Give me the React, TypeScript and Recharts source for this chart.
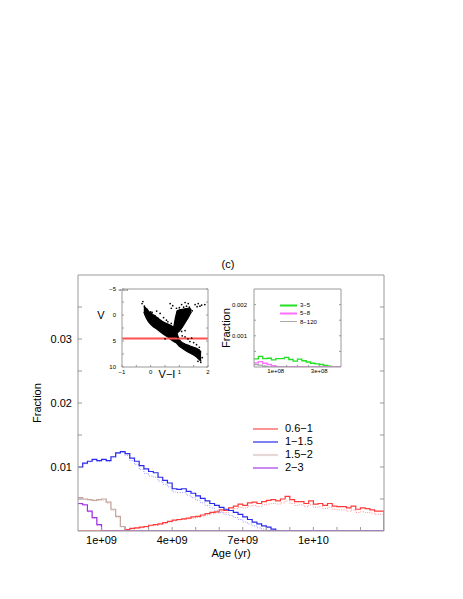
import React from 'react';
import {
  LineChart,
  ComposedChart,
  Line,
  Area,
  Scatter,
  XAxis,
  YAxis,
  Legend,
  ReferenceLine,
} from 'recharts';

const FONT = "'Liberation Sans', Arial, Helvetica, sans-serif";

// ---------------- main histogram (age in Gyr, fractions in units of 1e-3) ----------------
const ageEdgesGyr = [
  0, 0.2, 0.4, 0.6, 0.8, 1.0, 1.2, 1.4, 1.6, 1.8,
  2.0, 2.2, 2.4, 2.6, 2.8, 3.0, 3.2, 3.4, 3.6, 3.8,
  4.0, 4.2, 4.4, 4.6, 4.8, 5.0, 5.2, 5.4, 5.6, 5.8,
  6.0, 6.2, 6.4, 6.6, 6.8, 7.0, 7.2, 7.4, 7.6, 7.8,
  8.0, 8.2, 8.4, 8.6, 8.8, 9.0, 9.2, 9.4, 9.6, 9.8,
  10.0, 10.2, 10.4, 10.6, 10.8, 11.0, 11.2, 11.4, 11.6, 11.8,
  12.0, 12.2, 12.4, 12.6, 12.8, 13.0,
];

const mass06to1 = [
  0, 0, 0, 0, 0, 0, 0, 0, 0, 0,
  0.2, 0.4, 0.5, 0.6, 0.7, 0.9, 1.0, 1.1, 1.3, 1.5,
  1.7, 1.8, 1.9, 2.0, 2.2, 2.3, 2.5, 2.7, 2.9, 3.0,
  3.3, 3.2, 3.6, 3.9, 4.2, 4.0, 4.4, 4.5, 4.3, 4.6,
  4.8, 4.9, 4.7, 5.0, 5.4, 4.9, 4.6, 4.6, 4.3, 4.7,
  4.2, 4.3, 4.0, 4.3, 3.9, 3.8, 3.8, 3.6, 3.9, 3.4,
  3.6, 3.5, 3.3, 3.1, 3.1, 0,
];
const mass06to1Dotted = [
  0, 0, 0, 0, 0, 0, 0, 0, 0, 0,
  0.2, 0.3, 0.4, 0.5, 0.6, 0.8, 0.9, 1.0, 1.2, 1.4,
  1.6, 1.7, 1.8, 1.9, 2.0, 2.1, 2.3, 2.5, 2.7, 2.8,
  3.0, 2.9, 3.2, 3.5, 3.7, 3.6, 3.9, 4.0, 3.8, 4.1,
  4.2, 4.3, 4.2, 4.4, 4.7, 4.3, 4.0, 4.1, 3.8, 4.1,
  3.7, 3.8, 3.5, 3.7, 3.4, 3.3, 3.3, 3.1, 3.3, 2.9,
  3.0, 2.9, 2.8, 2.6, 2.6, 0,
];
const mass1to15 = [
  10.0, 10.6, 10.9, 11.2, 11.0, 11.2, 11.0, 11.6, 12.2, 12.4,
  12.1, 11.4, 10.9, 10.2, 9.7, 9.3, 9.1, 8.4, 7.9, 7.5,
  6.6, 6.5, 6.6, 6.2, 5.9, 5.5, 5.1, 4.7, 4.3, 4.0,
  3.7, 3.4, 3.2, 2.9, 2.6, 2.2, 1.8, 1.4, 1.1, 0.8,
  0.6, 0.3, 0, 0, 0, 0, 0, 0, 0, 0,
  0, 0, 0, 0, 0, 0, 0, 0, 0, 0,
  0, 0, 0, 0, 0, 0,
];
const mass1to15Dotted = [
  9.9, 10.5, 10.8, 11.1, 10.9, 11.1, 10.9, 11.5, 12.1, 12.3,
  11.8, 11.0, 10.4, 9.6, 9.0, 8.6, 8.4, 7.8, 7.3, 6.9,
  6.1, 6.0, 6.0, 5.6, 5.2, 4.8, 4.4, 4.0, 3.6, 3.2,
  2.9, 2.6, 2.4, 2.1, 1.8, 1.4, 1.1, 0.8, 0.5, 0.3,
  0.1, 0, 0, 0, 0, 0, 0, 0, 0, 0,
  0, 0, 0, 0, 0, 0, 0, 0, 0, 0,
  0, 0, 0, 0, 0, 0,
];
const mass15to2 = [
  5.2, 5.0, 4.9, 4.8, 4.9, 5.0, 4.5, 3.4, 2.3, 0.7,
  0, 0, 0, 0, 0, 0, 0, 0, 0, 0,
  0, 0, 0, 0, 0, 0, 0, 0, 0, 0,
  0, 0, 0, 0, 0, 0, 0, 0, 0, 0,
  0, 0, 0, 0, 0, 0, 0, 0, 0, 0,
  0, 0, 0, 0, 0, 0, 0, 0, 0, 0,
  0, 0, 0, 0, 0, 0,
];
const mass15to2Dotted = [
  5.0, 4.9, 4.8, 4.7, 4.8, 4.8, 4.3, 3.2, 2.1, 0.6,
  0, 0, 0, 0, 0, 0, 0, 0, 0, 0,
  0, 0, 0, 0, 0, 0, 0, 0, 0, 0,
  0, 0, 0, 0, 0, 0, 0, 0, 0, 0,
  0, 0, 0, 0, 0, 0, 0, 0, 0, 0,
  0, 0, 0, 0, 0, 0, 0, 0, 0, 0,
  0, 0, 0, 0, 0, 0,
];
const mass2to3 = [
  4.3, 4.1, 3.1, 2.1, 1.0, 0, 0, 0, 0, 0,
  0, 0, 0, 0, 0, 0, 0, 0, 0, 0,
  0, 0, 0, 0, 0, 0, 0, 0, 0, 0,
  0, 0, 0, 0, 0, 0, 0, 0, 0, 0,
  0, 0, 0, 0, 0, 0, 0, 0, 0, 0,
  0, 0, 0, 0, 0, 0, 0, 0, 0, 0,
  0, 0, 0, 0, 0, 0,
];
const mass2to3Dotted = [
  4.2, 4.0, 3.0, 2.0, 0.9, 0, 0, 0, 0, 0,
  0, 0, 0, 0, 0, 0, 0, 0, 0, 0,
  0, 0, 0, 0, 0, 0, 0, 0, 0, 0,
  0, 0, 0, 0, 0, 0, 0, 0, 0, 0,
  0, 0, 0, 0, 0, 0, 0, 0, 0, 0,
  0, 0, 0, 0, 0, 0, 0, 0, 0, 0,
  0, 0, 0, 0, 0, 0,
];

const seriesNames = ['0.6−1', '1−1.5', '1.5−2', '2−3'];
const seriesColors = ['#ff3a3a', '#2a2aee', '#c6a69e', '#a434e0'];
const dottedColors = ['#ff9090', '#9a9aff', '#dcc4bc', '#c88af0'];
const legendColors = ['#ff5a5a', '#3a3aee', '#e6d8d6', '#b048f0'];
const legendWidths = [1.3, 1.3, 2.2, 1.3];

const xTickValues = [1e9, 2e9, 3e9, 4e9, 5e9, 6e9, 7e9, 8e9, 9e9, 1e10, 1.1e10, 1.2e10];
const xLabelValues = [1e9, 4e9, 7e9, 1e10];
const xLabelTexts = ['1e+09', '4e+09', '7e+09', '1e+10'];
const yTickValues = [0.005, 0.01, 0.015, 0.02, 0.025, 0.03, 0.035];
const yLabelValues = [0.01, 0.02, 0.03];
const yLabelTexts = ['0.01', '0.02', '0.03'];
const titleText = '(c)';

// ---------------- inset: young ages (age in units of 1e8 yr, fractions in 1e-3) ----------------
const youngAgeEdges = [
  0, 0.2, 0.4, 0.6, 0.8, 1.0, 1.2, 1.4, 1.6, 1.8,
  2.0, 2.2, 2.4, 2.6, 2.8, 3.0, 3.2, 3.4, 3.6, 3.8, 4.0,
];
const mass3to5 = [
  0.26, 0.34, 0.27, 0.28, 0.23, 0.27, 0.27, 0.31, 0.24, 0.19,
  0.25, 0.20, 0.16, 0.12, 0.10, 0.08, 0.05, 0.02, 0, 0, 0,
];
const mass5to8 = [
  0.13, 0.17, 0.12, 0.08, 0.04, 0, 0, 0, 0, 0,
  0, 0, 0, 0, 0, 0, 0, 0, 0, 0, 0,
];
const mass8to120 = [
  0.08, 0.06, 0.02, 0, 0, 0, 0, 0, 0, 0,
  0, 0, 0, 0, 0, 0, 0, 0, 0, 0, 0,
];
const youngNames = ['3−5', '5−8', '8−120'];
const youngColors = ['#22e022', '#ff70ff', '#a8a8a8'];
const youngLegendWidths = [2, 2, 1];
const youngXTicks = [0.5e8, 1e8, 1.5e8, 2e8, 2.5e8, 3e8, 3.5e8];
const youngXLabelValues = [1e8, 3e8];
const youngXLabelTexts = ['1e+08', '3e+08'];
const youngYTicks = [0.0005, 0.001, 0.0015, 0.002];
const youngYLabelValues = [0.001, 0.002];
const youngYLabelTexts = ['0.001', '0.002'];

// ---------------- inset: colour-magnitude diagram ----------------
const msBandVI = [-0.24, -0.2, -0.15, -0.08, 0.0, 0.1, 0.2, 0.3, 0.4, 0.5, 0.6, 0.7, 0.8, 0.9, 1.0, 1.1, 1.2, 1.3, 1.4, 1.5, 1.6, 1.7, 1.76];
const msBandTop = [-1.4, -1.5, -1.2, -0.7, -0.4, 0.0, 0.4, 0.8, 1.2, 1.5, 1.75, 2.0, 2.35, 3.2, 4.9, 5.3, 5.6, 5.8, 6.0, 6.2, 6.4, 6.7, 7.2];
const msBandBottom = [-0.6, 0.0, 0.6, 1.3, 1.8, 2.3, 2.65, 3.1, 3.5, 3.9, 4.25, 4.7, 5.1, 5.4, 6.0, 6.4, 6.8, 7.1, 7.4, 7.7, 8.1, 8.6, 8.9];
const giantVI = [0.8, 0.86, 0.92, 1.0, 1.1, 1.2, 1.3, 1.37, 1.42];
const giantTop = [2.5, 0.6, -0.8, -1.0, -1.1, -1.2, -1.3, -1.3, -0.9];
const giantBottom = [3.6, 3.6, 3.5, 3.1, 2.4, 1.5, 0.6, -0.1, -0.6];
const starVI = [
  -0.27, -0.3, 0.68, 0.77, 0.72, 1.08, 1.2, 1.31, 1.25, 1.55,
  1.66, 1.78, 1.89, 1.62, 1.72, 0.33, 0.21, 0.45, 0.55, 1.08,
  1.2, 1.37, 1.43, 1.2, 1.3, 1.1, 0.95, 1.5, 1.6, 1.7,
  -0.1, 0.0, 0.6, 0.9, 1.0, 1.15, 1.35, 1.45, 0.82, 0.72,
  -0.22, -0.12, 0.05, 0.15, 0.25, 1.8, 1.75, 1.65, 1.02, 0.5,
];
const starV = [
  -2.6, -2.2, -2.2, -1.8, -1.3, -2.0, -2.4, -2.2, -1.7, -2.0,
  -2.2, -1.9, -2.0, -1.6, -1.7, -0.3, -0.75, 0.5, 1.0, 3.15,
  3.0, 5.1, 4.45, 4.2, 4.6, 4.0, 4.3, 5.3, 5.7, 6.2,
  -0.9, -0.6, 1.3, -1.3, -1.4, -1.5, -1.5, -0.8, 2.2, 1.6,
  -1.7, -1.1, -0.5, 0.1, 0.6, 8.2, 9.1, 8.9, 4.9, 4.6,
];
const cmdCutV = 4.5;
const cmdXTicks = [-1, -0.5, 0, 0.5, 1, 1.5, 2];
const cmdXLabelValues = [-1, 0, 1, 2];
const cmdXLabelTexts = ['−1', '0', '1', '2'];
const cmdYTicks = [-5, -2.5, 0, 2.5, 5, 7.5, 10];
const cmdYLabelValues = [-5, 0, 5, 10];
const cmdYLabelTexts = ['−5', '0', '5', '10'];

// ---------------- built tables ----------------
const mainRows = ageEdgesGyr.map((a, i) => ({
  age: a * 1e9,
  s0: mass06to1[i] / 1000,
  d0: mass06to1Dotted[i] / 1000,
  s1: mass1to15[i] / 1000,
  d1: mass1to15Dotted[i] / 1000,
  s2: mass15to2[i] / 1000,
  d2: mass15to2Dotted[i] / 1000,
  s3: mass2to3[i] / 1000,
  d3: mass2to3Dotted[i] / 1000,
}));

const youngRows = youngAgeEdges.map((a, i) => ({
  age: a * 1e8,
  g0: mass3to5[i] / 1000,
  g1: mass5to8[i] / 1000,
  g2: mass8to120[i] / 1000,
}));

const cmdRows = [
  ...msBandVI.map((x, i) => ({ vi: x, ms: [msBandTop[i], msBandBottom[i]] })),
  ...giantVI.map((x, i) => ({ vi: x, rgb: [giantTop[i], giantBottom[i]] })),
].sort((a, b) => a.vi - b.vi);
const cmdStars = starVI.map((x, i) => ({ vi: x, v: starV[i] }));

const labelFor = (values: number[], texts: string[], tol: number) => (v: number) => {
  const i = values.findIndex((x) => Math.abs(x - v) < tol);
  return i >= 0 ? texts[i] : '';
};
const blank = () => '';

const FRAME = '#9a9a9a';

const MainLegend = () => (
  <div style={{ fontFamily: FONT, fontSize: 11, color: '#000' }}>
    {seriesNames.map((n, i) => (
      <div key={n} style={{ height: 13, display: 'flex', alignItems: 'center' }}>
        <svg width={25} height={4} style={{ display: 'block' }}>
          <line x1={0} y1={2} x2={25} y2={2} stroke={legendColors[i]} strokeWidth={legendWidths[i]} />
        </svg>
        <span style={{ marginLeft: 7, lineHeight: '13px' }}>{n}</span>
      </div>
    ))}
  </div>
);

const YoungLegend = () => (
  <div style={{ fontFamily: FONT, fontSize: 6, color: '#000' }}>
    {youngNames.map((n, i) => (
      <div key={n} style={{ height: 8.3, display: 'flex', alignItems: 'center' }}>
        <svg width={17} height={3} style={{ display: 'block' }}>
          <line x1={0} y1={1.5} x2={17} y2={1.5} stroke={youngColors[i]} strokeWidth={youngLegendWidths[i]} />
        </svg>
        <span style={{ marginLeft: 3, lineHeight: '8px' }}>{n}</span>
      </div>
    ))}
  </div>
);

const StarDot = (props: any) => <circle cx={props.cx} cy={props.cy} r={0.85} fill="#000" />;

const layer: React.CSSProperties = { position: 'absolute', left: 0, top: 0 };

export default function App() {
  const W = 463;
  const H = 599;
  return (
    <div style={{ position: 'absolute', left: 0, top: 0, width: W, height: H, background: '#fff', fontFamily: FONT }}>
      {/* main chart */}
      <div style={layer}>
        <LineChart width={W} height={H} data={mainRows} margin={{ top: 274, right: 78, bottom: 38, left: 18 }} style={{ fontFamily: FONT }}>
          <XAxis
            xAxisId="b"
            type="number"
            dataKey="age"
            domain={[0, 13e9]}
            allowDataOverflow
            ticks={xTickValues}
            interval={0}
            tickFormatter={labelFor(xLabelValues, xLabelTexts, 1)}
            tickSize={-4}
            tickMargin={9}
            stroke={FRAME}
            tick={{ fontSize: 11, fill: '#000' }}
            height={30}
            label={{ value: 'Age (yr)', position: 'insideBottom', offset: 4, fontSize: 11, fill: '#000' }}
          />
          <XAxis
            xAxisId="t"
            orientation="top"
            type="number"
            domain={[0, 13e9]}
            allowDataOverflow
            ticks={xTickValues}
            interval={0}
            tickFormatter={blank}
            tickSize={-4}
            stroke={FRAME}
            height={1}
            label={{ value: titleText, position: 'top', offset: 6, dx: -3, fontSize: 11, fill: '#000' }}
          />
          <YAxis
            yAxisId="l"
            type="number"
            domain={[0, 0.04]}
            allowDataOverflow
            ticks={yTickValues}
            interval={0}
            tickFormatter={labelFor(yLabelValues, yLabelTexts, 1e-9)}
            tickSize={-4}
            tickMargin={10}
            stroke={FRAME}
            tick={{ fontSize: 11, fill: '#000' }}
            width={60}
            label={{ value: 'Fraction', angle: -90, position: 'insideLeft', offset: 19, fontSize: 11, fill: '#000', style: { textAnchor: 'middle' } }}
          />
          <YAxis
            yAxisId="r"
            orientation="right"
            type="number"
            domain={[0, 0.04]}
            allowDataOverflow
            ticks={yTickValues}
            interval={0}
            tickFormatter={blank}
            tickSize={-4}
            stroke={FRAME}
            width={1}
          />
          {[0, 1, 2, 3].map((k) => [
            <Line
              key={`d${k}`}
              xAxisId="b"
              yAxisId="l"
              dataKey={`d${k}`}
              type="stepAfter"
              stroke={dottedColors[k]}
              strokeWidth={1}
              strokeDasharray="1 1.5"
              dot={false}
              activeDot={false}
              legendType="none"
              isAnimationActive={false}
            />,
            <Line
              key={`s${k}`}
              xAxisId="b"
              yAxisId="l"
              dataKey={`s${k}`}
              name={seriesNames[k]}
              type="stepAfter"
              stroke={seriesColors[k]}
              strokeWidth={1.2}
              dot={false}
              activeDot={false}
              isAnimationActive={false}
            />,
          ])}
          <Legend
            layout="vertical"
            align="center"
            verticalAlign="middle"
            content={() => <MainLegend />}
            wrapperStyle={{ left: 253, top: 422, width: 90, height: 54 }}
          />
        </LineChart>
      </div>

      {/* CMD inset */}
      <div style={layer}>
        <ComposedChart width={W} height={H} data={cmdRows} margin={{ top: 288, right: 254, bottom: 212, left: 92 }} style={{ fontFamily: FONT }}>
          <XAxis
            xAxisId="b"
            type="number"
            dataKey="vi"
            domain={[-1, 2]}
            allowDataOverflow
            ticks={cmdXTicks}
            interval={0}
            tickFormatter={labelFor(cmdXLabelValues, cmdXLabelTexts, 1e-6)}
            tickSize={-2}
            tickMargin={5}
            stroke={FRAME}
            tick={{ fontSize: 6, fill: '#000' }}
            height={20}
            label={{ value: 'V−I', position: 'insideTop', offset: 3, dx: 2, fontSize: 11, fill: '#000' }}
          />
          <XAxis xAxisId="t" orientation="top" type="number" domain={[-1, 2]} allowDataOverflow ticks={cmdXTicks} interval={0} tickFormatter={blank} tickSize={-2} stroke={FRAME} height={1} />
          <YAxis
            yAxisId="l"
            type="number"
            dataKey="v"
            domain={[-5, 10]}
            reversed
            allowDataOverflow
            ticks={cmdYTicks}
            interval={0}
            tickFormatter={labelFor(cmdYLabelValues, cmdYLabelTexts, 1e-6)}
            tickSize={-2}
            tickMargin={8}
            stroke={FRAME}
            tick={{ fontSize: 6, fill: '#000' }}
            width={30}
            label={{ value: 'V', position: 'insideLeft', offset: 9, dy: -13, fontSize: 11, fill: '#000', style: { textAnchor: 'middle' } }}
          />
          <YAxis yAxisId="r" orientation="right" type="number" domain={[-5, 10]} reversed allowDataOverflow ticks={cmdYTicks} interval={0} tickFormatter={blank} tickSize={-2} stroke={FRAME} width={1} />
          <Area xAxisId="b" yAxisId="l" dataKey="ms" type="linear" stroke="#000" strokeWidth={1.2} fill="#000" fillOpacity={1} connectNulls dot={false} activeDot={false} isAnimationActive={false} />
          <Area xAxisId="b" yAxisId="l" dataKey="rgb" type="linear" stroke="#000" strokeWidth={1.2} fill="#000" fillOpacity={1} connectNulls dot={false} activeDot={false} isAnimationActive={false} />
          <Scatter xAxisId="b" yAxisId="l" data={cmdStars} dataKey="v" fill="#000" shape={StarDot} isAnimationActive={false} />
          <ReferenceLine xAxisId="b" yAxisId="l" y={cmdCutV} stroke="#ff5050" strokeWidth={2} />
        </ComposedChart>
      </div>

      {/* young-age inset */}
      <div style={layer}>
        <LineChart width={W} height={H} data={youngRows} margin={{ top: 288, right: 121, bottom: 212, left: 224 }} style={{ fontFamily: FONT }}>
          <XAxis
            xAxisId="b"
            type="number"
            dataKey="age"
            domain={[0, 4e8]}
            allowDataOverflow
            ticks={youngXTicks}
            interval={0}
            tickFormatter={labelFor(youngXLabelValues, youngXLabelTexts, 1)}
            tickSize={-2}
            tickMargin={4}
            stroke={FRAME}
            tick={{ fontSize: 6, fill: '#000' }}
            height={20}
          />
          <XAxis xAxisId="t" orientation="top" type="number" domain={[0, 4e8]} allowDataOverflow ticks={youngXTicks} interval={0} tickFormatter={blank} tickSize={-2} stroke={FRAME} height={1} />
          <YAxis
            yAxisId="l"
            type="number"
            domain={[0, 0.0025]}
            allowDataOverflow
            ticks={youngYTicks}
            interval={0}
            tickFormatter={labelFor(youngYLabelValues, youngYLabelTexts, 1e-9)}
            tickSize={-2}
            tickMargin={9}
            stroke={FRAME}
            tick={{ fontSize: 6, fill: '#000' }}
            width={30}
            label={{ value: 'Fraction', angle: -90, position: 'insideLeft', offset: 2, fontSize: 11, fill: '#000', style: { textAnchor: 'middle' } }}
          />
          <YAxis yAxisId="r" orientation="right" type="number" domain={[0, 0.0025]} allowDataOverflow ticks={youngYTicks} interval={0} tickFormatter={blank} tickSize={-2} stroke={FRAME} width={1} />
          {[0, 2, 1].map((k) => (
            <Line
              key={`g${k}`}
              xAxisId="b"
              yAxisId="l"
              dataKey={`g${k}`}
              name={youngNames[k]}
              type="stepAfter"
              stroke={youngColors[k]}
              strokeWidth={1.3}
              dot={false}
              activeDot={false}
              isAnimationActive={false}
            />
          ))}
          <Legend
            layout="vertical"
            align="center"
            verticalAlign="middle"
            content={() => <YoungLegend />}
            wrapperStyle={{ left: 280, top: 301, width: 50, height: 26 }}
          />
        </LineChart>
      </div>
    </div>
  );
}
